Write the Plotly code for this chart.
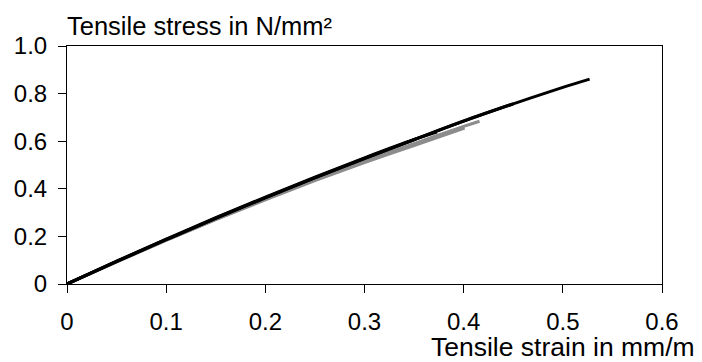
import plotly.graph_objects as go

# Black specimens
black1_x = [0, 0.05, 0.10, 0.15, 0.20, 0.25, 0.30, 0.35, 0.40, 0.45, 0.50, 0.527]
black1_y = [0, 0.095, 0.187, 0.277, 0.363, 0.447, 0.528, 0.607, 0.685, 0.757, 0.826, 0.861]
black2_x = [0, 0.05, 0.10, 0.15, 0.20, 0.25, 0.30, 0.35, 0.373]
black2_y = [0, 0.096, 0.189, 0.279, 0.365, 0.449, 0.530, 0.607, 0.638]
black3_x = [0, 0.05, 0.10, 0.15, 0.20, 0.25, 0.30, 0.35, 0.40, 0.45]
black3_y = [0, 0.094, 0.186, 0.276, 0.362, 0.446, 0.527, 0.606, 0.684, 0.757]
# Grey specimens
grey1_x = [0, 0.05, 0.10, 0.15, 0.20, 0.25, 0.30, 0.35, 0.40, 0.416]
grey1_y = [0, 0.093, 0.184, 0.272, 0.357, 0.438, 0.516, 0.590, 0.662, 0.684]
grey2_x = [0, 0.05, 0.10, 0.15, 0.20, 0.25, 0.30, 0.35, 0.401]
grey2_y = [0, 0.093, 0.183, 0.270, 0.354, 0.434, 0.510, 0.582, 0.655]

x_ticks = [0, 0.1, 0.2, 0.3, 0.4, 0.5, 0.6]
x_tick_labels = ["0", "0.1", "0.2", "0.3", "0.4", "0.5", "0.6"]
y_ticks = [0, 0.2, 0.4, 0.6, 0.8, 1.0]
y_tick_labels = ["0", "0.2", "0.4", "0.6", "0.8", "1.0"]

FONT = "Liberation Sans, Arial, sans-serif"
FS = 24

fig = go.Figure()
for xs, ys in [(grey1_x, grey1_y), (grey2_x, grey2_y)]:
    fig.add_trace(go.Scatter(x=xs, y=ys, mode="lines",
                             line=dict(color="#8c8c8c", width=3, shape="spline"),
                             showlegend=False, hoverinfo="skip"))
for xs, ys in [(black3_x, black3_y), (black2_x, black2_y), (black1_x, black1_y)]:
    fig.add_trace(go.Scatter(x=xs, y=ys, mode="lines",
                             line=dict(color="#000000", width=3, shape="spline"),
                             showlegend=False, hoverinfo="skip"))

fig.update_layout(
    width=694, height=354,
    margin=dict(l=59, r=40, t=38, b=78, autoexpand=False),
    paper_bgcolor="white", plot_bgcolor="white",
    font=dict(family=FONT, size=FS, color="black"),
    xaxis=dict(range=[0, 0.6], tickvals=x_ticks, ticktext=x_tick_labels,
               showgrid=False, zeroline=False, showline=True, linecolor="black",
               linewidth=1, mirror=True, ticks="outside", ticklen=8,
               tickcolor="black", tickfont=dict(size=FS, family=FONT),
               ticklabelstandoff=8, automargin=False),
    yaxis=dict(range=[0, 1.0], tickvals=y_ticks, ticktext=y_tick_labels,
               showgrid=False, zeroline=False, showline=True, linecolor="black",
               linewidth=1, mirror=True, ticks="outside", ticklen=8,
               tickcolor="black", tickfont=dict(size=FS, family=FONT),
               ticklabelstandoff=6, automargin=False),
    annotations=[
        dict(text="Tensile stress in N/mm²", xref="paper", yref="paper",
             x=0, y=1, xanchor="left", yanchor="bottom", yshift=4, xshift=-2,
             showarrow=False, font=dict(size=25.5, family=FONT)),
        dict(text="Tensile strain in mm/m", xref="paper", yref="paper",
             x=1, y=0, xanchor="right", yanchor="top", xshift=35, yshift=-46,
             showarrow=False, font=dict(size=26.5, family=FONT)),
    ],
)

fig.write_html("out.html")
